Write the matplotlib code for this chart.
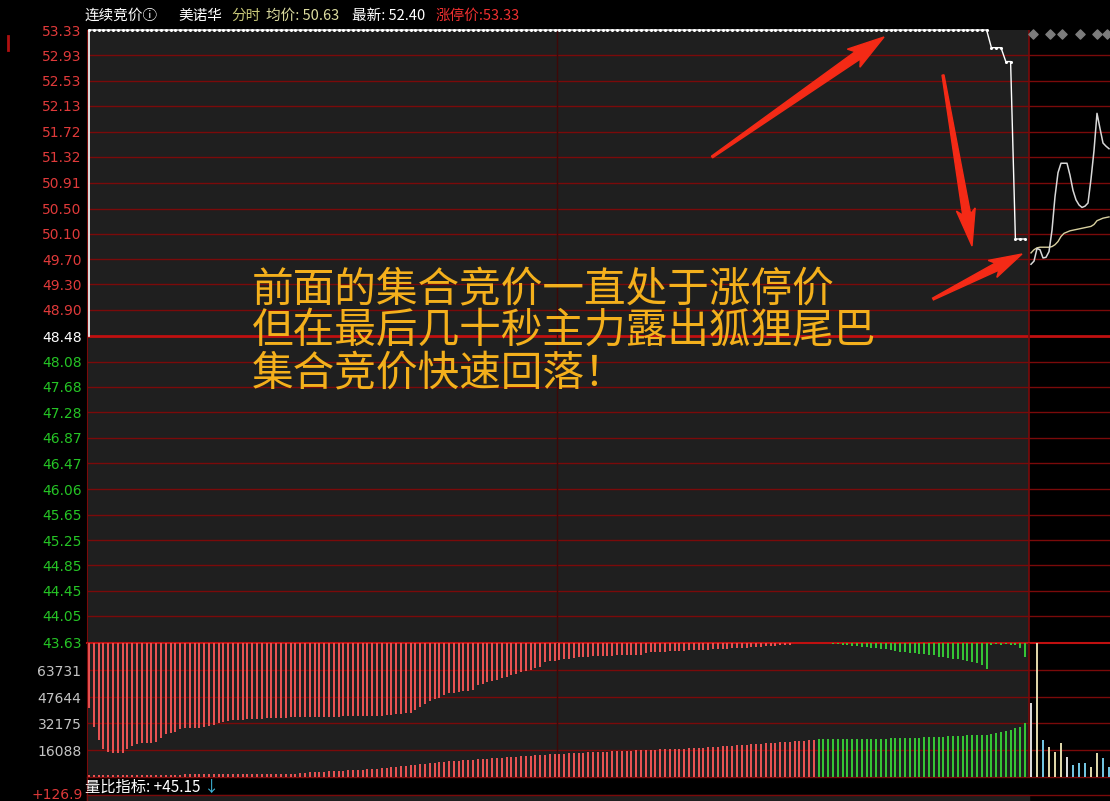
import numpy as np
import matplotlib.pyplot as plt
from matplotlib.patches import Polygon, Rectangle

W, H = 1110, 801
CJK = ['Noto Sans CJK SC', 'DejaVu Sans']

# price axis labels
price_ticks = [53.33, 52.93, 52.53, 52.13, 51.72, 51.32, 50.91, 50.50, 50.10,
               49.70, 49.30, 48.90, 48.48, 48.08, 47.68, 47.28, 46.87, 46.47,
               46.06, 45.65, 45.25, 44.85, 44.45, 44.05, 43.63]
pre_close = 48.48
vol_ticks = [16088, 32175, 47644, 63731]
vol_top = 80440

# call auction: one value per slot (196 slots)
auction_price = [53.33] * 188 + [53.05] * 3 + [52.83] * 2 + [50.02] * 3

# unmatched volume (+ buy side red, - sell side green)
unmatched = ([39000, 50400, 58200, 63600, 65400, 66000, 66000, 66000, 63600, 61800,
              60600, 60000, 60000, 60000, 59400, 57000, 54600, 54000, 53400, 51600,
              51000, 51000, 51000, 51000, 50400, 49800, 49200, 48000, 47400, 46800,
              46200, 46200, 46200, 45600, 45600, 45600, 45600, 45000, 45000, 45000,
              45000, 45000, 44400, 44400]
             + [44400] * 9 + [43800] * 9
             + [43200, 43200, 42600, 42600, 42000, 42000,
                40200, 38400, 36600, 34800, 33600, 33000,
                31200, 30000, 30000, 29400, 28800, 28800, 28200,
                25200, 24600, 23400, 22800, 22200, 21000, 20400,
                19200, 18600, 17400, 16800, 16200, 15000, 14400,
                11400, 10800, 10800, 10200, 9600, 9600, 9000,
                8400, 8400, 8400, 7800, 7800, 7800, 7800, 7800, 7200, 7200, 7200, 7200, 7200, 7200,
                6000, 5400, 5400, 5400, 5400, 4800, 4800, 4800, 4800, 4200, 4200, 4200,
                4200, 4200, 3600, 3600, 3600, 3600, 3000, 3000, 3000, 3000, 2400, 2400, 2400,
                1800, 1800, 1800, 1200, 1200, 1200]
             + [0] * 8
             + [-600, -600, -1200,
                -1200, -1800, -1800, -2400, -2400, -3000, -3000, -3600, -3600, -4200, -4800,
                -5400, -5400, -6000, -6000, -6600, -6600, -7200, -7200,
                -8400, -8400, -9000, -9600, -9600, -10200, -10800, -11400, -12000, -13200, -15600,
                -1200, -600, -1200, -600, -1200, -1200, -3000, -8400])

# matched volume (+ red, - green)
matched = ([1200] * 20 + [1800] * 24
           + [2400, 2400, 3000, 3000, 3000, 3000, 3600, 3600, 3600, 3600, 4200, 4200, 4200, 4200,
              4800, 4800, 4800,
              5400, 5400, 6000, 6000, 6600, 6600, 7200, 7200, 7800, 7800, 8400, 8400, 9000,
              9000, 9600, 9600, 9600, 10200, 10200, 10200, 10800, 10800, 10800, 11400, 11400,
              11400, 12000, 12000, 12000, 12600, 12600, 12600, 13200, 13200,
              13200, 13800, 13800, 13800, 13800, 14400, 14400, 14400, 14400, 15000, 15000, 15000,
              15000, 15000, 15600, 15600, 15600, 15600, 15600, 16200, 16200, 16200, 16200, 16200,
              16800, 16800, 16800, 16800, 16800, 16800, 17400, 17400, 17400,
              17400, 18000, 18000, 18000, 18600, 18600, 18600, 19200, 19200, 19200, 19800, 19800,
              19800, 20400, 20400, 20400, 21000, 21000, 21000, 21600, 21600, 21600, 22200, 22200]
           + [-22800] * 15 + [-23400] * 7 + [-24000] * 3
           + [-24000, -24000, -24600, -24600, -24600, -24600, -25200, -25200, -25200, -25200, -25200,
              -25800, -26400, -27000, -27600, -28200, -29400, -30000, -32400])

# continuous trading, sampled every half minute
cont_price = [49.62, 49.67, 49.87, 49.85, 49.72, 49.73, 49.82, 50.16, 50.69, 51.07,
              51.22, 51.22, 51.22, 51.03, 50.79, 50.64, 50.56, 50.52, 50.54, 50.59,
              50.97, 51.42, 52.01, 51.77, 51.54, 51.49, 51.45]
cont_avg = [49.80, 49.85, 49.88, 49.89, 49.89, 49.89, 49.89, 49.90, 49.93, 49.98,
            50.06, 50.11, 50.13, 50.15, 50.16, 50.17, 50.18, 50.19, 50.20, 50.21,
            50.22, 50.25, 50.31, 50.33, 50.35, 50.36, 50.37]
# per minute volume and direction (1 up, -1 down, 0 flat)
cont_vol = [44400, 95000, 22200, 18000, 15000, 20400, 12000, 7200, 8400, 8400,
            6000, 14400, 11400, 6000]
cont_dir = [0, 1, -1, 1, 1, 1, 0, -1, -1, -1, 1, 1, -1, -1]
event_min = [0.3, 3.2, 5.2, 8.2, 11.0, 12.7]

# layout helpers (pixels -> data / figure)
SLOT = 4.8
def px2x(p):
    return (p - 87) / SLOT - 0.4167

def box(x0, y0, x1, y1):
    return [x0 / W, 1 - y1 / H, (x1 - x0) / W, (y1 - y0) / H]

x_lo, x_hi = px2x(87), px2x(1110)
split = px2x(1029)
cont0 = px2x(1031)
MIN_W = 6 / SLOT

grid_c = '#7a0a0a'
gray_bg = '#1f1f1f'

fig = plt.figure(figsize=(W / 100, H / 100), dpi=100, facecolor='black')

# ---------------- price panel ----------------
ax = fig.add_axes(box(87, 30, 1110, 642.5))
ax.set_facecolor('black')
ax.set_xlim(x_lo, x_hi)
ax.set_ylim(price_ticks[-1], price_ticks[0])
ax.axvspan(x_lo, split, color=gray_bg, zorder=0, lw=0)
for p in price_ticks[1:-1]:
    if p == pre_close:
        ax.axhline(p, color='#c01010', lw=2, zorder=1)
    else:
        ax.axhline(p, color=grid_c, lw=1, zorder=1)
ax.axvline(97.5, color='#3e0808', lw=1, zorder=1)
ax.axvline(split, color=grid_c, lw=1.2, zorder=1)

xs = np.arange(len(auction_price))
ax.plot([xs[0], xs[0]], [pre_close, auction_price[0]], color='white', lw=1.2, zorder=3)
ax.plot(xs, auction_price, color='white', lw=1, marker='o', ms=2.2, mew=0,
        zorder=3, clip_on=False)

cx = cont0 + np.arange(len(cont_price)) * MIN_W / 2
ax.plot(cx, cont_avg, color='#d8d0a0', lw=1, zorder=3)
ax.plot(cx, cont_price, color='#d8d8d8', lw=1.1, zorder=4)
ax.scatter(cont0 + np.array(event_min) * MIN_W, [53.26] * len(event_min),
           marker='D', s=22, color='#7c7c7c', zorder=4, clip_on=False)

ax.set_yticks(price_ticks)
ax.set_yticklabels([f'{p:.2f}' for p in price_ticks])
ax.tick_params(axis='y', length=0, pad=4, labelsize=10)
ax.set_xticks([])
for i, lab in enumerate(ax.get_yticklabels()):
    p = price_ticks[i]
    lab.set_color('#e03a3a' if p > pre_close else ('white' if p == pre_close else '#25c425'))
for s in ['top', 'right', 'bottom']:
    ax.spines[s].set_visible(False)
ax.spines['left'].set_color(grid_c)

# ---------------- volume panel ----------------
axv = fig.add_axes(box(87, 642.5, 1110, 777))
axv.set_facecolor('black')
axv.set_xlim(x_lo, x_hi)
axv.set_ylim(0, vol_top)
axv.axvspan(x_lo, split, color=gray_bg, zorder=0, lw=0)
for v in vol_ticks:
    axv.axhline(v, color=grid_c, lw=1, zorder=1)
axv.axhline(vol_top, color='#c01010', lw=1.5, zorder=1, clip_on=False)
axv.axhline(0, color=grid_c, lw=1, zorder=1, clip_on=False)
axv.axvline(97.5, color='#3e0808', lw=1, zorder=1)
axv.axvline(split, color=grid_c, lw=1.2, zorder=1)

um = np.array(unmatched)
mt = np.array(matched)
red, green = '#e85252', '#35c435'
axv.bar(xs, np.abs(um), bottom=vol_top - np.abs(um), width=0.45,
        color=[red if v > 0 else green for v in um], zorder=2)
axv.bar(xs, np.abs(mt), width=0.45,
        color=[red if v > 0 else green for v in mt], zorder=2)
dir_col = {1: '#ddd5a8', -1: '#72c4e0', 0: '#d8d8d8'}
axv.bar(cont0 + np.arange(len(cont_vol)) * MIN_W, cont_vol, width=0.4,
        color=[dir_col[d] for d in cont_dir], zorder=2)

axv.set_yticks(vol_ticks)
axv.set_yticklabels([str(v) for v in vol_ticks])
axv.tick_params(axis='y', length=0, pad=4, labelsize=10, labelcolor='#c4c4c4')
axv.set_xticks([])
for s in ['top', 'right', 'bottom']:
    axv.spines[s].set_visible(False)
axv.spines['left'].set_color(grid_c)

# lower strip and next panel edge
fig.patches.append(Rectangle((87 / W, 0), (1029 - 87) / W, 6 / H,
                             transform=fig.transFigure, color=gray_bg, zorder=0))
fig.add_artist(plt.Line2D([87 / W, 1], [1 - 795 / H] * 2, color=grid_c, lw=1))
fig.add_artist(plt.Line2D([87 / W, 87 / W], [0, 1 - 777 / H], color=grid_c, lw=1))
fig.text(83 / W, 1 - 795 / H, '+126.9', color='#e03a3a', fontsize=10, ha='right', va='center')
fig.text(85 / W, 1 - 787 / H, '量比指标: +45.15', color='white', fontsize=11,
         family=CJK, va='center')
fig.text(204 / W, 1 - 787 / H, '↓', color='#3fb8dc', fontsize=11, family=CJK, va='center')
fig.add_artist(plt.Line2D([7.5 / W] * 2, [1 - 50 / H, 1 - 36 / H], color='#b01010', lw=2))

# ---------------- title bar ----------------
title_parts = [(85, '连续竞价ⓘ', 'white'), (178, '美诺华', 'white'), (231, '分时', '#c8c878'),
               (266, '均价: 50.63', '#dcdca0'), (352, '最新: 52.40', 'white'),
               (436, '涨停价:53.33', '#f03030')]
for x0, s, c in title_parts:
    fig.text(x0 / W, 1 - 16 / H, s, color=c, fontsize=10.5, family=CJK, va='center')

# ---------------- annotation ----------------
notes = ['前面的集合竞价一直处于涨停价', '但在最后几十秒主力露出狐狸尾巴', '集合竞价快速回落！']
for k, s in enumerate(notes):
    fig.text(252 / W, 1 - (290 + 42 * k) / H, s, color='#f4b01c', fontsize=30,
             family=CJK, va='center')


def arrow(x0, y0, x1, y1, w0, w1, hw, hl):
    p0 = np.array([x0, H - y0], float)
    p1 = np.array([x1, H - y1], float)
    d = p1 - p0
    d /= np.hypot(*d)
    n = np.array([-d[1], d[0]])
    neck = p1 - d * hl
    pts = [p0 + n * w0 / 2, neck + n * w1 / 2, neck + n * hw / 2 - d * 5, p1,
           neck - n * hw / 2 - d * 5, neck - n * w1 / 2, p0 - n * w0 / 2]
    pts = [(q[0] / W, q[1] / H) for q in pts]
    fig.patches.append(Polygon(pts, closed=True, transform=fig.transFigure,
                               color='#f42a16', zorder=10))


arrow(712, 157, 884, 37, 2, 9, 22, 32)
arrow(943, 75, 972, 246, 2, 8, 19, 32)
arrow(933, 299, 1022, 254, 2, 8, 19, 28)

fig.savefig('out.png', dpi=100, facecolor='black')
